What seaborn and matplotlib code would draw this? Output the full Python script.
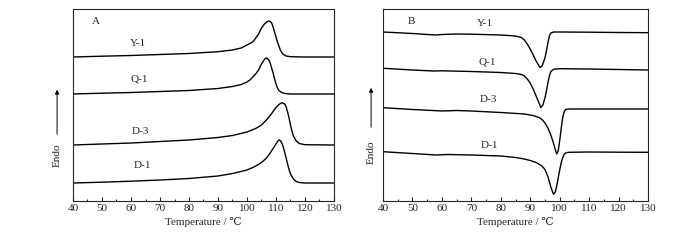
import numpy as np
import pandas as pd
import matplotlib
matplotlib.use('Agg')
import matplotlib.pyplot as plt
import seaborn as sns
from matplotlib.ticker import MultipleLocator

# Panel A (heating), arbitrary units
a_y1_t = [40, 50, 60, 70, 80, 90, 95, 98, 100, 102, 103, 104, 105, 106, 107, 107.5, 108, 108.5, 109, 109.5, 110, 110.5, 111, 111.5, 112, 112.5, 113.5, 115, 120, 130]
a_y1_h = [144, 144.8, 145.5, 146.5, 147.5, 149.3, 151, 153, 156, 159, 163, 167, 173, 177, 179.5, 180, 179.5, 178, 174, 169, 164, 159, 155, 151, 148.5, 146.7, 145, 144.3, 144, 144]

a_q1_t = [40, 50, 60, 70, 80, 90, 95, 98, 100, 101, 102, 103, 104, 105, 106, 106.5, 107, 107.5, 108, 108.5, 109, 109.5, 110, 110.5, 111, 112, 113, 115, 130]
a_q1_h = [107, 107.8, 108.5, 109.5, 110.5, 112.5, 114.5, 116.5, 119, 121, 124, 127, 131, 137, 141.5, 143, 142.5, 141, 138, 133, 128, 122, 117, 113, 110.5, 108.5, 107.5, 107, 107]

a_d3_t = [40, 50, 60, 70, 80, 90, 95, 100, 103, 105, 106, 107, 108, 109, 110, 111, 112, 113, 113.5, 114, 114.5, 115, 115.5, 116, 117, 118, 120, 130]
a_d3_h = [56, 57, 58, 59.5, 61, 63.5, 65.5, 69, 72.5, 76, 79, 82, 85.5, 89.5, 93.5, 96.5, 98.3, 97, 94, 89, 83, 76, 70, 65, 60, 57.5, 56.3, 56]

a_d1_t = [40, 50, 60, 70, 80, 90, 95, 100, 102, 104, 105, 106, 107, 108, 109, 110, 110.5, 111, 111.5, 112, 112.5, 113, 113.5, 114, 114.5, 115, 116, 117, 118, 120, 130]
a_d1_h = [18, 18.8, 19.8, 21, 22.5, 25, 27.5, 31, 33.5, 36.5, 38.5, 41, 44, 48, 52.5, 57, 59.5, 61, 60.5, 58, 54, 48.5, 43, 37, 31.5, 27, 22, 19.5, 18.5, 18, 18]

# Panel B (cooling)
b_y1_t = [40, 50, 55, 58, 60, 65, 70, 80, 85, 87, 88, 89, 90, 91, 92, 93, 93.3, 94, 95, 95.5, 96, 96.5, 97, 98, 100, 110, 120, 130]
b_y1_h = [169, 167.5, 166.5, 166, 166.5, 167, 166.8, 166, 165, 163.5, 161, 157, 152, 146, 140, 135, 133.5, 135, 143, 150, 158, 165, 168, 169, 169, 168.8, 168.5, 168.3]

b_q1_t = [40, 50, 57, 60, 70, 80, 85, 87, 88, 89, 90, 91, 92, 93, 93.6, 94.3, 95, 95.5, 96, 96.5, 97, 98, 100, 110, 120, 130]
b_q1_h = [132.7, 131, 130, 130.2, 129.5, 128.5, 127.5, 126.5, 125, 122, 118, 112, 105, 98, 93.3, 96, 103, 110, 118, 125, 129.5, 131.8, 132.3, 132, 131.5, 131]

b_d3_t = [40, 50, 60, 65, 70, 80, 88, 91, 93, 94, 95, 96, 97, 98, 98.5, 99, 99.5, 100, 100.5, 101, 101.5, 102, 103, 110, 120, 130]
b_d3_h = [93.3, 91.5, 90, 90.5, 90, 88.5, 87, 85.5, 83.5, 81.5, 78, 73, 66, 57, 51.5, 47, 50, 60, 72, 83, 89, 91.5, 92, 92, 92, 92]

b_d1_t = [40, 50, 58, 62, 70, 80, 85, 88, 90, 92, 94, 95, 96, 97, 97.9, 98.5, 99, 99.5, 100, 100.5, 101, 101.5, 102, 103, 110, 120, 130]
b_d1_h = [49.3, 47.5, 46, 46.5, 46, 45, 43.5, 42, 40.5, 38.5, 35, 31.5, 24.5, 14, 6.7, 9, 15, 23, 31, 38, 43, 46.5, 48, 48.7, 49, 48.8, 48.7]

names = ['Y-1', 'Q-1', 'D-3', 'D-1']


def to_df(pairs):
    frames = []
    for name, (t, h) in zip(names, pairs):
        frames.append(pd.DataFrame({'T': t, 'H': h, 'sample': name}))
    return pd.concat(frames, ignore_index=True)


df_a = to_df([(a_y1_t, a_y1_h), (a_q1_t, a_q1_h), (a_d3_t, a_d3_h), (a_d1_t, a_d1_h)])
df_b = to_df([(b_y1_t, b_y1_h), (b_q1_t, b_q1_h), (b_d3_t, b_d3_h), (b_d1_t, b_d1_h)])

sns.set_style('ticks')
plt.rcParams['font.family'] = ['Liberation Serif', 'DejaVu Serif']
plt.rcParams['xtick.direction'] = 'in'
plt.rcParams['font.size'] = 8

fig = plt.figure(figsize=(7, 2.4), dpi=100)
ax_a = fig.add_axes([73/700, 39/240, 261/700, 192/240])
ax_b = fig.add_axes([383/700, 39/240, 265/700, 192/240])

for ax, d in [(ax_a, df_a), (ax_b, df_b)]:
    sns.lineplot(data=d, x='T', y='H', units='sample', estimator=None, sort=False,
                 color='black', linewidth=1.0, ax=ax, legend=False)
    ax.set_xlim(40, 130)
    ax.set_ylim(0, 192)
    ax.xaxis.set_major_locator(MultipleLocator(10))
    ax.xaxis.set_minor_locator(MultipleLocator(5))
    ax.tick_params(axis='x', which='major', length=3, width=0.8, labelsize=8, pad=2)
    ax.tick_params(axis='x', which='minor', length=1.5, width=0.8)
    ax.set_yticks([])
    ax.set_ylabel('')
    ax.set_xlabel('Temperature / \u2103', fontsize=8, labelpad=3)
    for s in ax.spines.values():
        s.set_linewidth(0.8)
        s.set_visible(True)

# labels panel A
ax_a.text(47.9, 179, 'A', ha='center', va='center')
for lab, x, y in [('Y-1', 62.4, 158), ('Q-1', 62.8, 122), ('D-3', 63.1, 70), ('D-1', 64.1, 35)]:
    ax_a.text(x, y, lab, ha='center', va='center')

# labels panel B
ax_b.text(49.5, 180, 'B', ha='center', va='center')
for lab, x, y in [('Y-1', 74.6, 177), ('Q-1', 75.3, 139), ('D-3', 75.7, 101), ('D-1', 76.3, 55)]:
    ax_b.text(x, y, lab, ha='center', va='center')

# Endo arrows
for ax, xa, yt, y0, y1 in [(ax_a, -0.061, 0.24, 0.333, 0.594), (ax_b, -0.045, 0.255, 0.37, 0.604)]:
    ax.text(xa, yt, 'Endo', rotation=90, ha='center', va='center', transform=ax.transAxes)
    ax.annotate('', xy=(xa, y1), xytext=(xa, y0), xycoords='axes fraction',
                arrowprops=dict(arrowstyle='-|>', color='black', lw=0.7, mutation_scale=6),
                annotation_clip=False)

fig.savefig('out.png', dpi=100)
